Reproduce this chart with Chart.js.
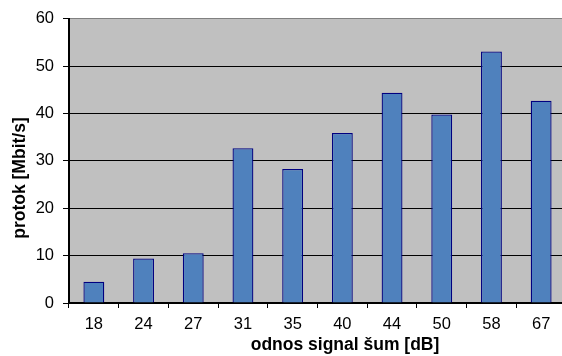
<!DOCTYPE html>
<html>
<head>
<meta charset="utf-8">
<script src="https://cdn.jsdelivr.net/npm/chart.js@4.4.0/dist/chart.umd.min.js"></script>
<style>
  html, body { margin: 0; padding: 0; background: #fff; overflow: hidden; }
</style>
</head>
<body>
<canvas id="grafika" width="570" height="356"></canvas>
<script>
const labels = ['18', '24', '27', '31', '35', '40', '44', '50', '58', '67']
const protok = [4.5, 9.4, 10.5, 32.7, 28.3, 35.9, 44.4, 39.8, 53.1, 42.7]
const yTitle = 'protok [Mbit/s]'
const xTitle = 'odnos signal šum [dB]'

const ctx = document.getElementById('grafika')

// siva pozadina + naslovi osi
const pozadina = {
  id: 'pozadina',
  beforeDraw(chart) {
    const { ctx, chartArea: a } = chart
    ctx.save()
    ctx.fillStyle = '#c0c0c0'
    ctx.fillRect(a.left, a.top, a.right - a.left, a.bottom - a.top)
    ctx.restore()
  },
  afterDraw(chart) {
    const { ctx } = chart
    ctx.save()
    ctx.fillStyle = '#000'
    ctx.font = 'bold 17.5px "Liberation Sans", Arial, sans-serif'
    ctx.textAlign = 'center'
    ctx.textBaseline = 'middle'
    ctx.fillText(xTitle, 345, 345)
    ctx.translate(20, 178)
    ctx.rotate(-Math.PI / 2)
    ctx.fillText(yTitle, 0, 0)
    ctx.restore()
  }
}

new Chart(ctx, {
  type: 'bar',
  data: {
    labels: labels,
    datasets: [{
      data: protok,
      backgroundColor: '#4f81bd',
      borderColor: '#000080',
      borderWidth: 1.3,
      barPercentage: 0.42,
      categoryPercentage: 1
    }]
  },
  options: {
    responsive: false,
    animation: false,
    layout: { padding: { top: 16, right: 4, left: 0, bottom: 0 } },
    plugins: {
      legend: { display: false },
      tooltip: { enabled: false }
    },
    scales: {
      x: {
        afterFit: s => { s.height = 53 },
        border: { color: '#000', width: 2 },
        grid: {
          offset: true,
          drawOnChartArea: false,
          drawTicks: true,
          tickLength: 5,
          tickColor: '#000'
        },
        ticks: {
          color: '#000',
          padding: 7,
          font: { family: '"Liberation Sans", Arial, sans-serif', size: 16.5 }
        }
      },
      y: {
        min: 0,
        max: 60,
        afterFit: s => { s.width = 69 },
        border: { color: '#000', width: 2 },
        grid: {
          color: c => c.tick && c.tick.value === 60 ? '#808080' : '#000',
          tickColor: '#000',
          lineWidth: 1,
          tickLength: 6
        },
        ticks: {
          stepSize: 10,
          color: '#000',
          padding: 9,
          font: { family: '"Liberation Sans", Arial, sans-serif', size: 16.5 }
        }
      }
    }
  },
  plugins: [pozadina]
})
</script>
</body>
</html>
